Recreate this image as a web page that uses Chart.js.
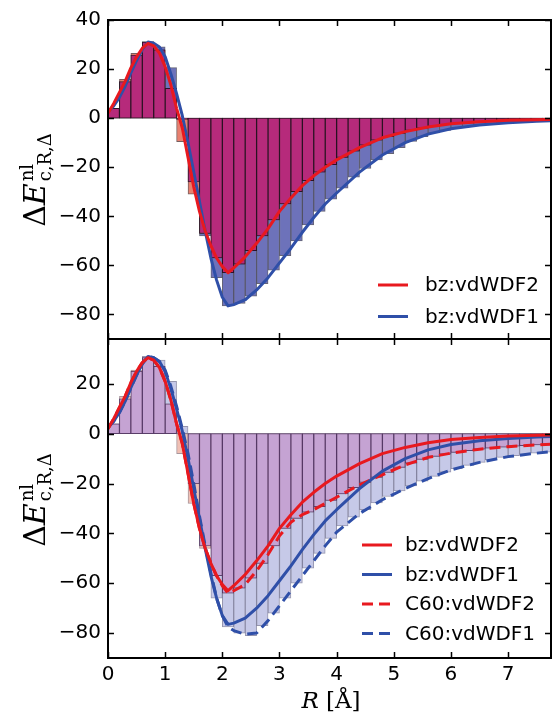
<!DOCTYPE html>
<html>
<head>
<meta charset="utf-8">
<script src="https://cdn.jsdelivr.net/npm/chart.js@4.4.0/dist/chart.umd.min.js"></script>
<style>
  html, body { margin: 0; padding: 0; background: #fff; }
  #wrap { position: relative; width: 556px; height: 716px; overflow: hidden; }
  #wrap canvas { position: absolute; left: 0; top: 0; }
  .lab { position: absolute; font-family: "DejaVu Serif", serif; color: #000; white-space: nowrap; line-height: 1; }
  .ylab { font-size: 30px; transform: translate(-50%, -50%) rotate(-90deg); }
  .xlab { font-size: 23px; transform: translate(-50%, -50%); }
  .ss { display: inline-flex; flex-direction: column; font-size: 18px; line-height: 18px; vertical-align: 12px; margin-left: 2px; }
</style>
</head>
<body>
<div id="wrap">
  <canvas id="topChart" width="556" height="716"></canvas>
  <canvas id="botChart" width="556" height="716"></canvas>
  <div class="lab ylab" style="left:36px;top:180px;">Δ<i>E</i><span class="ss"><span>nl</span><span>c,R,Δ</span></span></div>
  <div class="lab ylab" style="left:36px;top:500px;">Δ<i>E</i><span class="ss"><span>nl</span><span>c,R,Δ</span></span></div>
  <div class="lab xlab" style="left:331px;top:700px;"><i>R</i> [Å]</div>
</div>
<script>
// ---- data ----
// line sample points R [Å]
const rLine = [0, 0.1, 0.2, 0.3, 0.4, 0.5, 0.6, 0.7, 0.8, 0.9, 1.0, 1.1, 1.2, 1.3, 1.4, 1.5, 1.6, 1.7, 1.8, 1.9,
  2.0, 2.1, 2.2, 2.4, 2.6, 2.8, 3.0, 3.2, 3.4, 3.6, 3.8, 4.0, 4.4, 4.8, 5.2, 5.6, 6.0, 6.5, 7.0, 7.5, 7.75];
const bzVdwdf2 = [2, 6, 10.5, 15, 20.5, 25, 28.5, 30.5, 29.5, 26.5, 21, 13.5, 4, -4, -16, -28, -38, -46, -52, -57,
  -60.5, -63, -61, -56.5, -51, -45, -38, -32.5, -27.5, -23.5, -20, -17, -12, -8, -5.5, -3.6, -2.3, -1.5, -0.9, -0.6, -0.5];
const bzVdwdf1 = [2.5, 5, 8.5, 13, 18.5, 23.5, 28, 31, 30.5, 29, 25, 18, 10, 1, -10, -22, -34, -46, -57, -66,
  -73, -76.5, -76, -74, -70, -65, -59, -53, -46.5, -40.5, -35, -30.5, -22, -15, -10, -6.5, -4.3, -2.8, -1.9, -1.3, -1.1];
const c60Vdwdf2 = [2, 6, 10.5, 15, 20.5, 25, 28.5, 30.5, 29.5, 26.5, 21, 13.5, 4, -4, -16, -28, -38, -46, -52, -57,
  -61, -64, -63, -60.5, -55, -48.5, -41, -35.5, -32.5, -30.5, -28, -25.5, -20.5, -16.5, -12.5, -9.5, -7.8, -6.2, -5.2, -4.5, -4.2];
const c60Vdwdf1 = [2.5, 5, 8.5, 13, 18.5, 23.5, 28, 31, 30.5, 29, 25.5, 19, 11, 2, -8, -20, -33, -45, -56, -66,
  -73, -77.5, -79, -80.5, -80, -75, -69, -63, -57, -51, -45, -39.5, -32, -26.5, -22, -18, -14.5, -11.5, -9.2, -7.8, -7.2];

// histogram bins (centres, width 0.2 Å)
const barR = [0.1, 0.3, 0.5, 0.7, 0.9, 1.1, 1.3, 1.5, 1.7, 1.9, 2.1, 2.3, 2.5, 2.7, 2.9, 3.1, 3.3, 3.5, 3.7, 3.9,
  4.1, 4.3, 4.5, 4.7, 4.9, 5.1, 5.3, 5.5, 5.7, 5.9, 6.1, 6.3, 6.5, 6.7, 6.9, 7.1, 7.3, 7.5, 7.7];
const bzBar2 = [4, 15.8, 26.4, 31, 27.8, 12.2, -9.6, -31, -47, -57, -63, -59.5, -54, -48, -41.5, -35, -30, -25.5, -22, -19,
  -16, -13.5, -11, -9, -7.5, -6.2, -5, -4.1, -3.4, -2.7, -2.2, -1.9, -1.6, -1.3, -1.1, -0.9, -0.8, -0.7, -0.6];
const bzBar1 = [4, 14.9, 25.7, 31.2, 29.1, 20.6, -0.5, -26, -48, -65, -76.5, -75.5, -72.5, -67.5, -62, -56, -50, -43.5, -38, -33,
  -28.5, -24, -20.5, -17, -14.5, -12, -9.5, -7.5, -6, -5, -4, -3.4, -2.8, -2.4, -2.1, -1.8, -1.5, -1.3, -1.2];
const c60Bar2 = [4, 15, 25.5, 30.5, 27, 12, -8, -28, -46, -57, -64, -62, -58, -52, -45, -38, -34, -31.5, -29.3, -26.8,
  -24.2, -21.7, -19.5, -17.5, -15.5, -13.5, -11.8, -10.3, -9.1, -8.2, -7.5, -6.8, -6.2, -5.8, -5.4, -5, -4.8, -4.5, -4.3];
const c60Bar1 = [4, 14, 25, 31, 29.5, 21, 3, -20, -45, -66, -77.5, -80, -81, -77, -72, -66, -60, -54, -48, -42,
  -37, -33.5, -30.5, -27.8, -25.2, -23, -21, -19, -17.1, -15.4, -14, -12.7, -11.5, -10.5, -9.5, -8.8, -8.3, -7.8, -7.4];

const RED = '#e8191f';
const BLUE = '#2f4fa8';

// 两组柱子重叠的部分（同号取绝对值较小者）
function overlap(a, b) {
  return a.map((v, i) => (v * b[i] > 0 ? Math.sign(v) * Math.min(Math.abs(v), Math.abs(b[i])) : 0));
}
function barSet(vals, color, edge, order) {
  return {
    type: 'bar', data: barR.map((r, i) => ({ x: r, y: vals[i] })),
    backgroundColor: color, borderColor: edge, borderWidth: 1, borderSkipped: false,
    grouped: false, barPercentage: 1, categoryPercentage: 1, order,
  };
}
function lineSet(vals, color, dash, label) {
  return {
    type: 'line', label, data: rLine.map((r, i) => ({ x: r, y: vals[i] })),
    borderColor: color, borderWidth: 3, borderDash: dash, pointRadius: 0, tension: 0,
    fill: false, order: 0, borderJoinStyle: 'round',
  };
}
const fmt = v => (v < 0 ? '\u2212' + Math.abs(v) : String(v));
const tickFont = { family: 'DejaVu Sans', size: 20 };

// 框 + 朝内的刻度
const frameTicks = {
  id: 'frameTicks',
  afterDatasetsDraw(chart) {
    const { ctx, chartArea: a, scales: { x, y } } = chart;
    const L = 6;
    ctx.save();
    ctx.strokeStyle = '#000';
    ctx.lineWidth = 1.5;
    ctx.beginPath();
    x.ticks.forEach(t => {
      const px = Math.round(x.getPixelForValue(t.value)) + 0.5;
      ctx.moveTo(px, a.bottom); ctx.lineTo(px, a.bottom - L);
      ctx.moveTo(px, a.top); ctx.lineTo(px, a.top + L);
    });
    y.ticks.forEach(t => {
      const py = Math.round(y.getPixelForValue(t.value)) + 0.5;
      ctx.moveTo(a.left, py); ctx.lineTo(a.left + L, py);
      ctx.moveTo(a.right, py); ctx.lineTo(a.right - L, py);
    });
    ctx.stroke();
    ctx.lineWidth = 2;
    ctx.strokeRect(a.left, a.top, a.right - a.left, a.bottom - a.top);
    ctx.restore();
  },
};

// 图内图例（无边框）
const inLegend = {
  id: 'inLegend',
  afterDraw(chart, args, o) {
    const ctx = chart.ctx;
    const items = chart.data.datasets.filter(d => d.label);
    ctx.save();
    ctx.font = '20px "DejaVu Sans"';
    ctx.textBaseline = 'middle';
    items.forEach((d, i) => {
      const y = o.y0 + i * o.dy;
      ctx.strokeStyle = d.borderColor;
      ctx.lineWidth = d.borderWidth;
      ctx.setLineDash(d.borderDash || []);
      ctx.beginPath(); ctx.moveTo(o.x0, y); ctx.lineTo(o.x0 + o.len, y); ctx.stroke();
      ctx.fillStyle = '#000';
      ctx.fillText(d.label, o.tx, y + 1);
    });
    ctx.restore();
  },
};

function makeChart(id, cfg) {
  return new Chart(document.getElementById(id), {
    type: 'bar',
    data: { datasets: cfg.datasets },
    options: {
      responsive: false, animation: false, devicePixelRatio: 1,
      layout: { padding: cfg.padding },
      scales: {
        x: {
          type: 'linear', min: 0, max: 7.75, offset: false,
          ticks: { stepSize: 1, includeBounds: false, display: cfg.showX, font: tickFont, color: '#000', padding: 5, maxRotation: 0 },
          grid: { display: false, drawTicks: false, offset: false }, border: { display: false },
          afterFit(s) { s.height = cfg.showX ? 30 : 0; },
        },
        y: {
          min: cfg.yMin, max: cfg.yMax,
          ticks: { stepSize: 20, includeBounds: false, font: tickFont, color: '#000', padding: 7, callback: fmt },
          grid: { display: false, drawTicks: false }, border: { display: false },
          afterFit(s) { s.width = 108; },
        },
      },
      plugins: { legend: { display: false }, tooltip: { enabled: false }, inLegend: cfg.legend },
    },
    plugins: [frameTicks, inLegend],
  });
}

// 上图：bz
makeChart('topChart', {
  yMin: -90, yMax: 40, showX: false,
  padding: { left: 0, right: 5, top: 20, bottom: 377 },
  legend: { x0: 378, len: 30, tx: 425, y0: 285, dy: 31.5 },
  datasets: [
    lineSet(bzVdwdf2, RED, [], 'bz:vdWDF2'),
    lineSet(bzVdwdf1, BLUE, [], 'bz:vdWDF1'),
    barSet(overlap(bzBar2, bzBar1), '#b62a7b', 'rgba(40,15,35,0.85)', 1),
    barSet(bzBar2, '#e8806f', 'rgba(60,25,25,0.7)', 2),
    barSet(bzBar1, '#6d72ba', 'rgba(35,35,60,0.7)', 2),
  ],
});

// 下图：bz 线 + C60 线与柱
makeChart('botChart', {
  yMin: -90, yMax: 38, showX: true,
  padding: { left: 0, right: 5, top: 339, bottom: 28 },
  legend: { x0: 362, len: 30, tx: 405, y0: 545, dy: 29.5 },
  datasets: [
    lineSet(bzVdwdf2, RED, [], 'bz:vdWDF2'),
    lineSet(bzVdwdf1, BLUE, [], 'bz:vdWDF1'),
    lineSet(c60Vdwdf2, RED, [11, 6], 'C60:vdWDF2'),
    lineSet(c60Vdwdf1, BLUE, [11, 6], 'C60:vdWDF1'),
    barSet(overlap(c60Bar2, c60Bar1), '#c5a3d3', 'rgba(80,50,100,0.8)', 1),
    barSet(c60Bar2, '#f0c0b4', 'rgba(110,80,90,0.6)', 2),
    barSet(c60Bar1, '#c6c9e8', 'rgba(80,80,120,0.6)', 2),
  ],
});
</script>
</body>
</html>
